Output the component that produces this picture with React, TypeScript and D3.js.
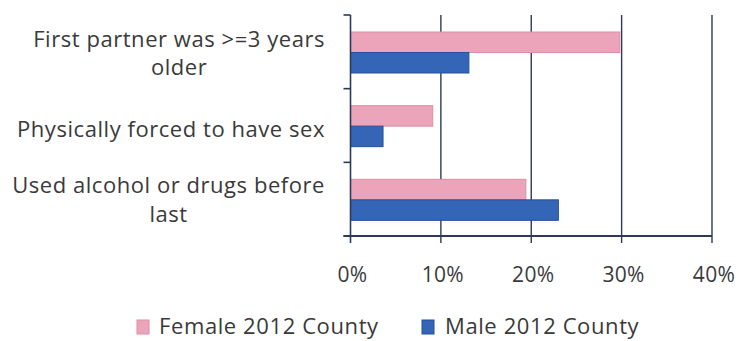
import React, { useEffect, useRef } from "react";
import * as d3 from "d3";

const categories = [
  ["First partner was >=3 years", "older"],
  ["Physically forced to have sex"],
  ["Used alcohol or drugs before", "last"],
];
const seriesNames = ["Female 2012 County", "Male 2012 County"];
const femaleValues = [0.298, 0.091, 0.194];
const maleValues = [0.131, 0.036, 0.23];
const xTicks = [0, 0.1, 0.2, 0.3, 0.4];

const W = 754;
const H = 341;
const FONT = "'Open Sans', sans-serif";
const TEXT = "#3a3a3a";
const AXIS = "#2c3a58";
const COLORS = ["#eba4b9", "#3565b6"];
const STROKES = ["#dc8ea6", "#24509e"];

export default function App() {
  const ref = useRef<SVGSVGElement | null>(null);

  useEffect(() => {
    const svg = d3.select(ref.current);
    svg.selectAll("*").remove();

    const x = d3.scaleLinear().domain([0, 0.4]).range([350.5, 712]);
    const keys = categories.map((c) => c.join(" "));
    const y = d3.scaleBand().domain(keys).range([15, 236]).padding(0);
    const inner = d3.scaleBand().domain(seriesNames).range([17, 58]).padding(0);

    const rows = keys.map((k, i) => ({ key: k, lines: categories[i], values: [femaleValues[i], maleValues[i]] }));

    // vertical gridlines
    svg
      .append("g")
      .selectAll("line")
      .data(xTicks.slice(1))
      .join("line")
      .attr("x1", (d) => x(d))
      .attr("x2", (d) => x(d))
      .attr("y1", 15)
      .attr("y2", 243)
      .attr("stroke", AXIS)
      .attr("stroke-width", 1.4);

    // bars
    const groups = svg
      .append("g")
      .selectAll("g")
      .data(rows)
      .join("g")
      .attr("transform", (d) => `translate(0,${y(d.key)})`);
    groups
      .selectAll("rect")
      .data((d) => d.values.map((v, j) => ({ v, j })))
      .join("rect")
      .attr("x", x(0))
      .attr("y", (d) => inner(seriesNames[d.j])!)
      .attr("width", (d) => x(d.v) - x(0))
      .attr("height", inner.bandwidth())
      .attr("fill", (d) => COLORS[d.j])
      .attr("stroke", (d) => STROKES[d.j])
      .attr("stroke-width", 1);

    // left axis with ticks at band boundaries
    const la = svg.append("g");
    la.append("line")
      .attr("x1", x(0))
      .attr("x2", x(0))
      .attr("y1", 15)
      .attr("y2", 243)
      .attr("stroke", AXIS)
      .attr("stroke-width", 1.6);
    const bounds = keys.map((k) => y(k)!).concat([236]);
    la.selectAll("line.t")
      .data(bounds)
      .join("line")
      .attr("class", "t")
      .attr("x1", x(0) - 7)
      .attr("x2", x(0))
      .attr("y1", (d) => d)
      .attr("y2", (d) => d)
      .attr("stroke", AXIS)
      .attr("stroke-width", 1.6);

    // bottom axis
    svg
      .append("line")
      .attr("x1", x(0) - 7)
      .attr("x2", x(0.4))
      .attr("y1", 236)
      .attr("y2", 236)
      .attr("stroke", AXIS)
      .attr("stroke-width", 1.8);
    svg
      .append("g")
      .selectAll("text")
      .data(xTicks)
      .join("text")
      .attr("x", (d) => x(d) + 2)
      .attr("y", 282)
      .attr("text-anchor", "middle")
      .attr("font-family", FONT)
      .attr("font-size", 21)
      .attr("letter-spacing", 0.3)
      .attr("fill", TEXT)
      .text((d) => d3.format(".0%")(d));

    // category labels: lines centred within a right-aligned block
    const labelRight = 325;
    const lineBaselines = [
      [47, 75],
      [137],
      [193, 222],
    ];
    rows.forEach((r, i) => {
      const g = svg.append("g");
      const texts = g
        .selectAll("text")
        .data(r.lines)
        .join("text")
        .attr("y", (_, li) => lineBaselines[i][li])
        .attr("text-anchor", "middle")
        .attr("font-family", FONT)
        .attr("font-size", 22)
        .attr("letter-spacing", 0.55)
        .attr("fill", TEXT)
        .text((d) => d);
      let maxW = 0;
      texts.each(function () {
        maxW = Math.max(maxW, (this as SVGTextElement).getComputedTextLength());
      });
      texts.attr("x", labelRight - maxW / 2);
    });

    // legend
    const legendItems = [
      { name: seriesNames[0], sx: 137, tx: 159 },
      { name: seriesNames[1], sx: 422, tx: 445 },
    ];
    const lg = svg.append("g");
    legendItems.forEach((it, i) => {
      lg.append("rect")
        .attr("x", it.sx)
        .attr("y", 320)
        .attr("width", 12)
        .attr("height", 14)
        .attr("fill", COLORS[i])
        .attr("stroke", STROKES[i]);
      lg.append("text")
        .attr("x", it.tx)
        .attr("y", 334)
        .attr("font-family", FONT)
        .attr("font-size", 22)
        .attr("letter-spacing", 0.6)
        .attr("fill", TEXT)
        .text(it.name);
    });
  }, []);

  return (
    <div style={{ position: "fixed", left: 0, top: 0 }}>
      <svg ref={ref} width={W} height={H} style={{ display: "block", background: "#fff" }} />
    </div>
  );
}
